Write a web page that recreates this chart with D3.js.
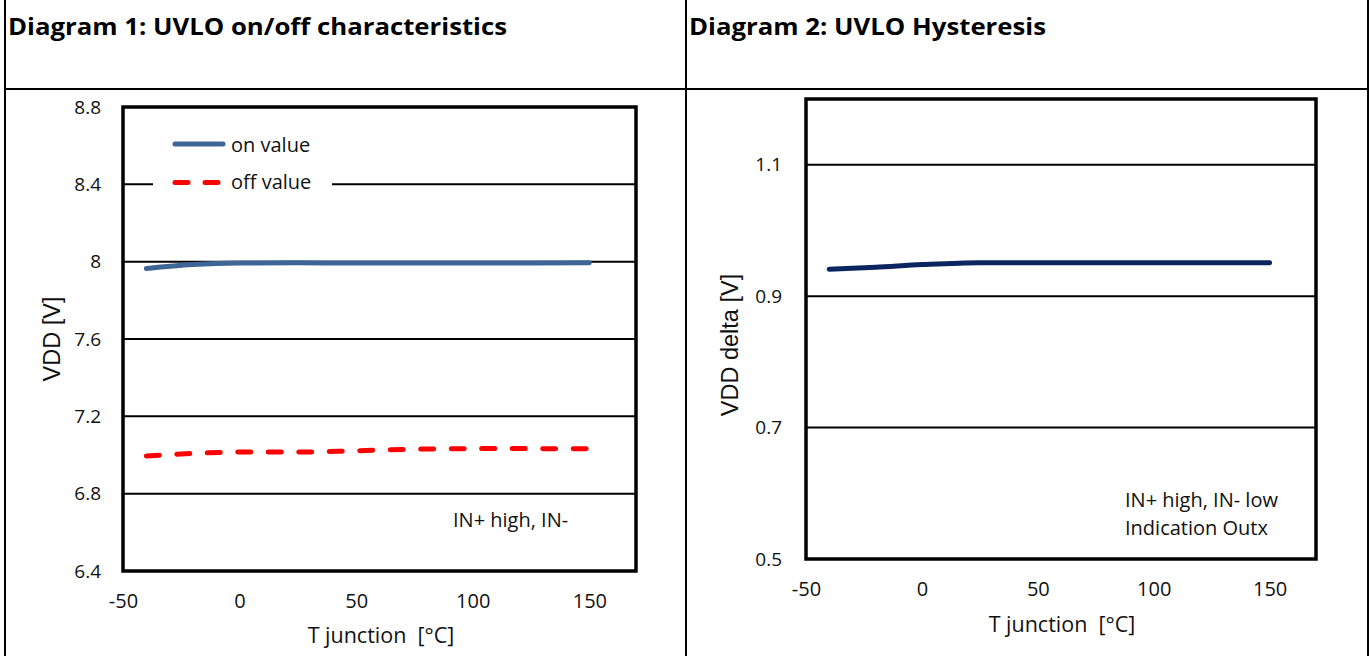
<!DOCTYPE html>
<html><head><meta charset="utf-8">
<script src="https://cdn.jsdelivr.net/npm/d3@7"></script>
<style>body{margin:0;background:#fff}svg{display:block}</style>
</head><body>
<svg id="c" width="1370" height="656"></svg>
<script>
// ---- data ----
const temps = [-40, -20, 0, 25, 50, 75, 100, 125, 150];
const onValue = [7.965, 7.985, 7.993, 7.994, 7.993, 7.993, 7.993, 7.993, 7.994];
const offValue = [6.995, 7.008, 7.015, 7.015, 7.022, 7.03, 7.033, 7.033, 7.032];
const hystValue = [0.941, 0.944, 0.948, 0.951, 0.951, 0.951, 0.951, 0.951, 0.951];
const xTicks = [-50, 0, 50, 100, 150];
const yTicks1 = [6.4, 6.8, 7.2, 7.6, 8, 8.4, 8.8];
const yTicks2 = [0.5, 0.7, 0.9, 1.1];
const titles = ["Diagram 1: UVLO on/off characteristics", "Diagram 2: UVLO Hysteresis"];
const seriesNames = ["on value", "off value"];

const svg = d3.select("#c");
const LBL = "'Open Sans', Lato, sans-serif";

// table frame
const frame = svg.append("g").attr("stroke", "#000").attr("stroke-width", 2);
frame.append("line").attr("x1", 5).attr("x2", 5).attr("y1", 0).attr("y2", 656);
frame.append("line").attr("x1", 686).attr("x2", 686).attr("y1", 0).attr("y2", 656);
frame.append("line").attr("x1", 1368).attr("x2", 1368).attr("y1", 0).attr("y2", 656);
frame.append("line").attr("x1", 5).attr("x2", 1368).attr("y1", 89).attr("y2", 89);

svg.append("text").attr("x", 8).attr("y", 35).text(titles[0])
  .attr("font-family", LBL).attr("font-weight", "bold").attr("font-size", 24)
  .attr("textLength", 499).attr("lengthAdjust", "spacingAndGlyphs");
svg.append("text").attr("x", 689).attr("y", 35).text(titles[1])
  .attr("font-family", LBL).attr("font-weight", "bold").attr("font-size", 24)
  .attr("textLength", 357).attr("lengthAdjust", "spacingAndGlyphs");

function chart(o) {
  const g = svg.append("g");
  const x = d3.scaleLinear().domain([-50, 170]).range([o.left, o.right]);
  const y = d3.scaleLinear().domain(o.yDomain).range([o.bottom, o.top]);
  // gridlines
  g.append("g").selectAll("line").data(o.yTicks).join("line")
    .attr("x1", o.left).attr("x2", o.right)
    .attr("y1", d => y(d)).attr("y2", d => y(d))
    .attr("stroke", "#000").attr("stroke-width", 2);
  // y axis labels
  const ya = g.append("g").attr("transform", `translate(${o.left},0)`)
    .call(d3.axisLeft(y).tickValues(o.yTicks).tickSize(0).tickPadding(o.left - o.yLabelRight).tickFormat(d => String(d)));
  ya.select(".domain").remove();
  ya.selectAll("text").attr("font-family", LBL).attr("font-size", 19).attr("fill", "#111");
  // x axis labels
  const xa = g.append("g").attr("transform", `translate(0,${o.bottom})`)
    .call(d3.axisBottom(x).tickValues(xTicks).tickSize(0).tickPadding(o.xPad).tickFormat(d => String(d)));
  xa.select(".domain").remove();
  xa.selectAll("text").attr("font-family", LBL).attr("font-size", 20).attr("fill", "#111");
  // axis titles
  g.append("text").attr("x", o.xTitleX).attr("y", o.xTitleY).attr("text-anchor", "middle")
    .attr("font-family", LBL).attr("font-size", 21.5).attr("fill", "#111").text("T junction  [°C]")
    .style("white-space", "pre");
  g.append("text").attr("transform", `translate(${o.yTitleX},${o.yTitleY}) rotate(-90)`)
    .attr("text-anchor", "middle").attr("dominant-baseline", "middle")
    .attr("font-family", "'Liberation Sans', Arial, sans-serif").attr("font-size", 23.5).attr("fill", "#111").text(o.yTitle);
  return {g, x, y};
}

// ---- chart 1 ----
const c1 = chart({left: 123, right: 636, top: 107, bottom: 571, yDomain: [6.4, 8.8], yTicks: yTicks1,
  yLabelRight: 101, xPad: 23, xTitleX: 381, xTitleY: 643, yTitleX: 54, yTitleY: 339, yTitle: "VDD [V]"});
// legend background (covers gridline)
c1.g.append("rect").attr("x", 153).attr("y", 125).attr("width", 179).attr("height", 75).attr("fill", "#fff");
c1.g.append("path").datum(onValue)
  .attr("d", d3.line().x((d, i) => c1.x(temps[i])).y(d => c1.y(d)).curve(d3.curveMonotoneX))
  .attr("fill", "none").attr("stroke", "#3d6697").attr("stroke-width", 5).attr("stroke-linecap", "round");
c1.g.append("path").datum(offValue)
  .attr("d", d3.line().x((d, i) => c1.x(temps[i])).y(d => c1.y(d)).curve(d3.curveMonotoneX))
  .attr("fill", "none").attr("stroke", "#ff0000").attr("stroke-width", 5).attr("stroke-linecap", "round")
  .attr("stroke-dasharray", "13,17.5");
// legend
const leg = c1.g.append("g");
leg.append("line").attr("x1", 175).attr("x2", 223).attr("y1", 144).attr("y2", 144)
  .attr("stroke", "#3d6697").attr("stroke-width", 5).attr("stroke-linecap", "round");
leg.append("line").attr("x1", 175).attr("x2", 220).attr("y1", 182.5).attr("y2", 182.5)
  .attr("stroke", "#ff0000").attr("stroke-width", 5).attr("stroke-linecap", "round").attr("stroke-dasharray", "13,17");
leg.selectAll("text").data(seriesNames).join("text")
  .attr("x", 231).attr("y", (d, i) => 151.5 + i * 37).text(d => d)
  .attr("font-family", LBL).attr("font-size", 20).attr("fill", "#111");
c1.g.append("text").attr("x", 453).attr("y", 527).text("IN+ high, IN-")
  .attr("font-family", LBL).attr("font-size", 20).attr("fill", "#111");

// ---- chart 2 ----
const c2 = chart({left: 806, right: 1316, top: 99, bottom: 559, yDomain: [0.5, 1.2], yTicks: yTicks2,
  yLabelRight: 782, xPad: 23, xTitleX: 1062, xTitleY: 632, yTitleX: 732, yTitleY: 345, yTitle: "VDD delta [V]"});
c2.g.append("path").datum(hystValue)
  .attr("d", d3.line().x((d, i) => c2.x(temps[i])).y(d => c2.y(d)).curve(d3.curveMonotoneX))
  .attr("fill", "none").attr("stroke", "#0b2561").attr("stroke-width", 5).attr("stroke-linecap", "round");
c2.g.append("text").attr("x", 1125).attr("y", 506.5).text("IN+ high, IN- low")
  .attr("font-family", LBL).attr("font-size", 20).attr("fill", "#111");
c2.g.append("text").attr("x", 1125).attr("y", 535).text("Indication Outx")
  .attr("font-family", LBL).attr("font-size", 20).attr("fill", "#111");

// plot borders on top
[c1, c2].forEach(c => {
  const [x0, x1] = c.x.range(), [y0, y1] = c.y.range();
  c.g.append("rect").attr("x", x0).attr("y", y1).attr("width", x1 - x0).attr("height", y0 - y1)
    .attr("fill", "none").attr("stroke", "#000").attr("stroke-width", 3.5);
});
</script>
</body></html>
